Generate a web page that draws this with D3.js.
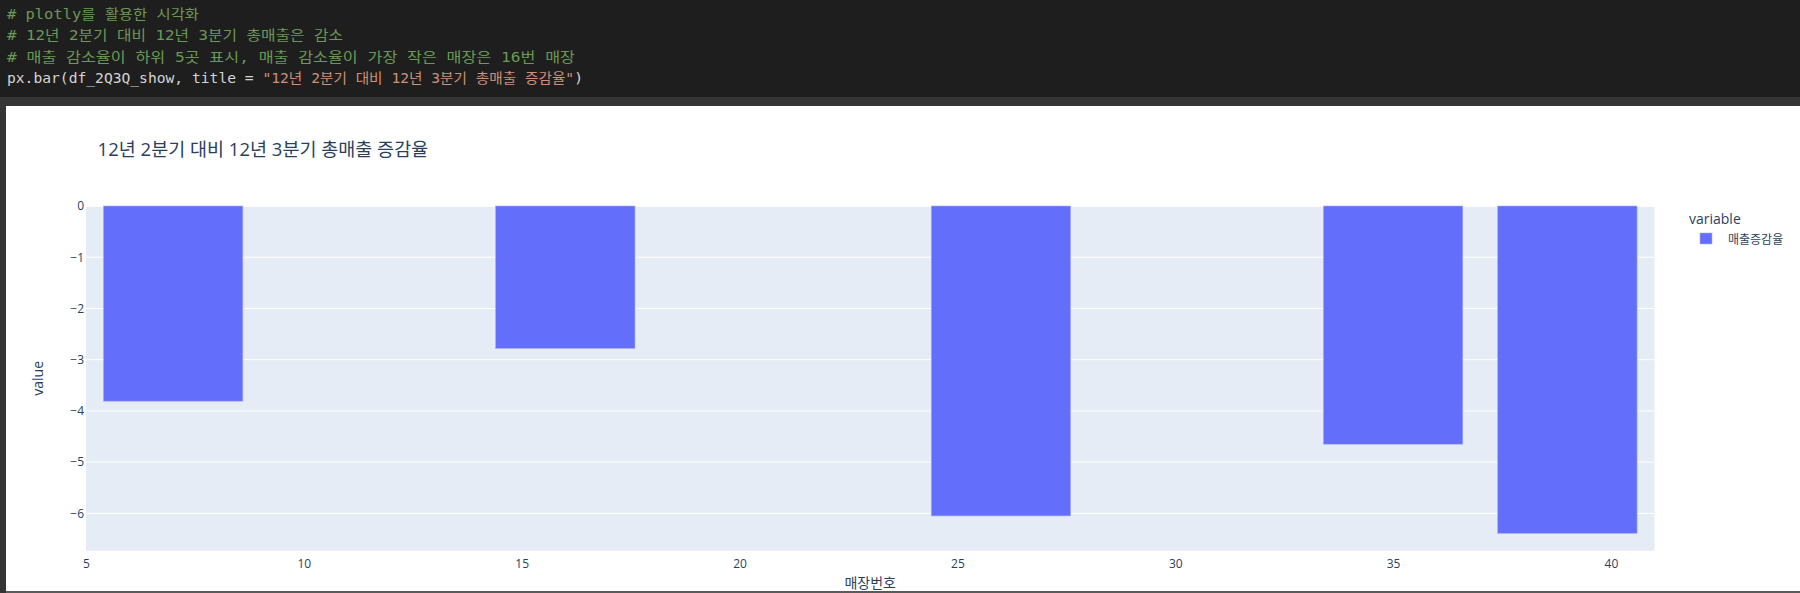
<!DOCTYPE html>
<meta charset="utf-8">
<style>
body { margin: 0; background: #fff; }
svg { display: block; }
.code { font-family: "DejaVu Sans Mono", "Noto Sans CJK KR", monospace; font-size: 13.3px; }
.axis text { font-family: "Open Sans", "Noto Sans CJK KR", sans-serif; font-size: 12px; fill: #2a3f5f; }
.axis path, .axis line { display: none; }
</style>
<body>
<script src="https://d3js.org/d3.v7.min.js"></script>
<script>

// data
var stores = [7, 16, 26, 35, 39];
var values = [-3.81, -2.78, -6.05, -4.65, -6.39];
var xTicks = [5, 10, 15, 20, 25, 30, 35, 40];
var yTicks = [0, -1, -2, -3, -4, -5, -6];
var seriesName = "매출증감율";
var chartTitle = "12년 2분기 대비 12년 3분기 총매출 증감율";

var codeLines = [
  {text: "# plotly를 활용한 시각화", color: "#6a9955"},
  {text: "# 12년 2분기 대비 12년 3분기 총매출은 감소", color: "#6a9955"},
  {text: "# 매출 감소율이 하위 5곳 표시, 매출 감소율이 가장 작은 매장은 16번 매장", color: "#6a9955"}
];

var W = 1800, H = 593;
var svg = d3.select("body").append("svg").attr("width", W).attr("height", H);

// notebook cell background
svg.append("rect").attr("width", W).attr("height", H).attr("fill", "#353535");
svg.append("rect").attr("width", W).attr("height", 97).attr("fill", "#1e1e1e");
svg.append("rect").attr("x", 6).attr("y", 106).attr("width", W - 6).attr("height", 485).attr("fill", "#fff");

// width of a line in half-width cells (hangul counts 2)
function cells(s) {
  var n = 0;
  for (var c of s) n += /[\u3131-\uD7A3]/.test(c) ? 2 : 1;
  return n;
}
var cw = 8;

codeLines.forEach((l, i) => {
  svg.append("text").attr("class", "code")
    .attr("x", 7).attr("y", 19 + i * 21.3)
    .attr("textLength", cells(l.text) * cw).attr("lengthAdjust", "spacingAndGlyphs")
    .attr("fill", l.color).text(l.text);
});
// last line: code + string
var pre = 'px.bar(df_2Q3Q_show, title = ', str = '"' + chartTitle + '"';
var line4 = svg.append("text").attr("class", "code").attr("x", 7).attr("y", 83)
  .attr("textLength", cells(pre + str + ")") * cw).attr("lengthAdjust", "spacingAndGlyphs");
line4.append("tspan").attr("fill", "#d4d4d4").text(pre);
line4.append("tspan").attr("fill", "#ce9178").text(str);
line4.append("tspan").attr("fill", "#d4d4d4").text(")");

// plot area
var margin = {left: 86, top: 206, right: 1654.5, bottom: 550.7};
var minGap = d3.min(d3.pairs(stores), p => p[1] - p[0]);
var barW = minGap * 0.8;

var x = d3.scaleLinear()
  .domain([d3.min(stores) - barW / 2 - 0.4, d3.max(stores) + barW / 2 + 0.4])
  .range([margin.left, margin.right]);
var y = d3.scaleLinear()
  .domain([d3.min(values) * 1.053, 0])
  .range([margin.bottom, margin.top]);

svg.append("rect")
  .attr("x", margin.left).attr("y", margin.top)
  .attr("width", margin.right - margin.left).attr("height", margin.bottom - margin.top)
  .attr("fill", "#E5ECF6");

// gridlines
svg.append("g").selectAll("line").data(yTicks).join("line")
  .attr("x1", margin.left).attr("x2", margin.right)
  .attr("y1", d => y(d)).attr("y2", d => y(d))
  .attr("stroke", "#fff").attr("stroke-width", d => d === 0 ? 2 : 1);

// bars
svg.append("g").selectAll("rect").data(stores).join("rect")
  .attr("x", d => x(d - barW / 2))
  .attr("width", x(barW) - x(0))
  .attr("y", y(0))
  .attr("height", (d, i) => y(values[i]) - y(0))
  .attr("fill", "#636efa")
  .attr("stroke", "#a9b0f5").attr("stroke-width", 0.6);

// axes
svg.append("g").attr("class", "axis")
  .attr("transform", `translate(0,${margin.bottom})`)
  .call(d3.axisBottom(x).tickValues(xTicks).tickSize(0).tickPadding(9));
svg.append("g").attr("class", "axis")
  .attr("transform", `translate(${margin.left},0)`)
  .call(d3.axisLeft(y).tickValues(yTicks).tickFormat(d3.format("d")).tickSize(0).tickPadding(2));

// titles
svg.append("text").attr("x", 97.6).attr("y", 156)
  .style("font-family", '"Open Sans", "Noto Sans CJK KR", sans-serif').style("font-size", "18.5px")
  .attr("fill", "#2a3f5f").text(chartTitle);

svg.append("text")
  .attr("transform", `translate(43,${(margin.top + margin.bottom) / 2}) rotate(-90)`)
  .attr("text-anchor", "middle")
  .style("font-family", '"Open Sans", sans-serif').style("font-size", "14px")
  .attr("fill", "#2a3f5f").text("value");

svg.append("text")
  .attr("x", (margin.left + margin.right) / 2).attr("y", 588)
  .attr("text-anchor", "middle")
  .style("font-family", '"Noto Sans CJK KR", sans-serif').style("font-size", "14px")
  .attr("fill", "#2a3f5f").text("매장번호");

// legend
svg.append("text").attr("x", 1689).attr("y", 224)
  .style("font-family", '"Open Sans", sans-serif').style("font-size", "14px")
  .attr("fill", "#2a3f5f").text("variable");
svg.append("rect").attr("x", 1700).attr("y", 233).attr("width", 12).attr("height", 11)
  .attr("fill", "#636efa").attr("stroke", "#a9b0f5").attr("stroke-width", 0.6);
svg.append("text").attr("x", 1728).attr("y", 244)
  .style("font-family", '"Noto Sans CJK KR", sans-serif').style("font-size", "12px")
  .attr("fill", "#2a3f5f").text(seriesName);

// bottom edge of the output cell
svg.append("rect").attr("x", 0).attr("y", 591).attr("width", W).attr("height", 2).attr("fill", "#5a5a5a");
svg.append("rect").attr("x", 0).attr("y", 97).attr("width", 6).attr("height", 496).attr("fill", "#353535");

</script>
</body>
